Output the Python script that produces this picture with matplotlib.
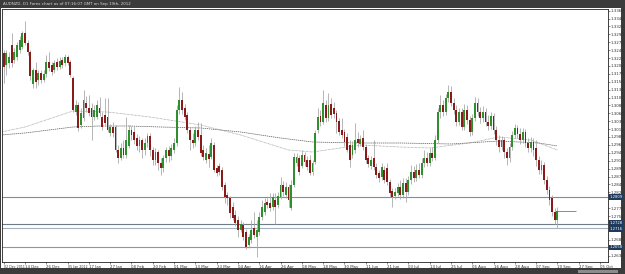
import matplotlib
matplotlib.use("Agg")
import matplotlib.pyplot as plt
from matplotlib.patches import Rectangle

# ---------------- data ----------------
title = "AUDNZD, D1 Forex chart as of 07:16:07 GMT on Sep 19th, 2012"

opens = [
    1.3241, 1.3205, 1.3211, 1.3265, 1.3220, 1.3229, 1.3250, 1.3259, 1.3301, 1.3271,
    1.3244, 1.3148, 1.3190, 1.3160, 1.3181, 1.3160, 1.3178, 1.3214, 1.3205, 1.3190,
    1.3214, 1.3199, 1.3220, 1.3211, 1.3229, 1.3214, 1.3166, 1.3064, 1.3085, 1.3025,
    1.3046, 1.3091, 1.3076, 1.3076, 1.3049, 1.3049, 1.3076, 1.3049, 1.3055, 1.3049,
    1.3001, 1.3019, 1.3019, 1.2950, 1.2926, 1.2956, 1.2935, 1.2962, 1.3010, 1.3004,
    1.2986, 1.2962, 1.2980, 1.2950, 1.2971, 1.2992, 1.2950, 1.2920, 1.2944, 1.2911,
    1.2896, 1.2926, 1.2950, 1.2932, 1.2950, 1.2971, 1.3070, 1.3100, 1.3076, 1.3055,
    1.3010, 1.2980, 1.2971, 1.3010, 1.2995, 1.2950, 1.2920, 1.2938, 1.2929, 1.2965,
    1.2896, 1.2902, 1.2890, 1.2845, 1.2815, 1.2806, 1.2779, 1.2755, 1.2740, 1.2710,
    1.2725, 1.2704, 1.2665, 1.2680, 1.2716, 1.2689, 1.2704, 1.2749, 1.2764, 1.2794,
    1.2791, 1.2779, 1.2800, 1.2785, 1.2809, 1.2845, 1.2815, 1.2839, 1.2776, 1.2845,
    1.2911, 1.2926, 1.2902, 1.2935, 1.2920, 1.2920, 1.2884, 1.2914, 1.3010, 1.3052,
    1.3034, 1.3085, 1.3046, 1.3088, 1.3076, 1.3061, 1.3037, 1.3010, 1.3004, 1.2989,
    1.2965, 1.2935, 1.2950, 1.2983, 1.2968, 1.2986, 1.2959, 1.2926, 1.2902, 1.2926,
    1.2899, 1.2881, 1.2869, 1.2890, 1.2896, 1.2854, 1.2827, 1.2812, 1.2821, 1.2839,
    1.2815, 1.2851, 1.2824, 1.2860, 1.2884, 1.2866, 1.2890, 1.2875, 1.2911, 1.2926,
    1.2911, 1.2941, 1.2926, 1.2980, 1.3064, 1.3085, 1.3064, 1.3106, 1.3124, 1.3091,
    1.3070, 1.3034, 1.3064, 1.3019, 1.3070, 1.3040, 1.3004, 1.3046, 1.3091, 1.3064,
    1.3046, 1.3064, 1.3034, 1.3022, 1.3052, 1.3010, 1.2980, 1.2959, 1.2980, 1.2944,
    1.2926, 1.2959, 1.2995, 1.3016, 1.2998, 1.2980, 1.3004, 1.2971, 1.2956, 1.2974,
    1.2956, 1.2920, 1.2890, 1.2905, 1.2860, 1.2830, 1.2806, 1.2764, 1.2740,
]
highs = [
    1.3250, 1.3250, 1.3244, 1.3301, 1.3256, 1.3274, 1.3292, 1.3307, 1.3337, 1.3280,
    1.3250, 1.3196, 1.3214, 1.3190, 1.3190, 1.3190, 1.3235, 1.3244, 1.3214, 1.3220,
    1.3226, 1.3229, 1.3229, 1.3238, 1.3235, 1.3220, 1.3172, 1.3100, 1.3094, 1.3076,
    1.3130, 1.3112, 1.3115, 1.3091, 1.3085, 1.3100, 1.3109, 1.3064, 1.3106, 1.3106,
    1.3028, 1.3034, 1.3025, 1.2965, 1.2971, 1.2980, 1.3049, 1.3025, 1.3022, 1.3022,
    1.2998, 1.2992, 1.2986, 1.2986, 1.3001, 1.3001, 1.2959, 1.2956, 1.2950, 1.2926,
    1.2935, 1.2959, 1.2962, 1.2968, 1.2986, 1.3085, 1.3139, 1.3124, 1.3088, 1.3064,
    1.3019, 1.3001, 1.3022, 1.3034, 1.3031, 1.2965, 1.2956, 1.2965, 1.2986, 1.2974,
    1.2905, 1.2911, 1.2899, 1.2854, 1.2824, 1.2812, 1.2794, 1.2770, 1.2752, 1.2740,
    1.2734, 1.2713, 1.2698, 1.2740, 1.2764, 1.2740, 1.2764, 1.2800, 1.2806, 1.2806,
    1.2821, 1.2821, 1.2821, 1.2824, 1.2869, 1.2857, 1.2854, 1.2848, 1.2860, 1.2941,
    1.2941, 1.2935, 1.2950, 1.2944, 1.2932, 1.2935, 1.2920, 1.3010, 1.3076, 1.3070,
    1.3130, 1.3100, 1.3121, 1.3106, 1.3094, 1.3070, 1.3046, 1.3046, 1.3013, 1.3001,
    1.2980, 1.2977, 1.3031, 1.3004, 1.2995, 1.3010, 1.2968, 1.2935, 1.2932, 1.2980,
    1.2911, 1.2890, 1.2911, 1.2902, 1.2911, 1.2863, 1.2836, 1.2836, 1.2851, 1.2860,
    1.2866, 1.2866, 1.2872, 1.2905, 1.2902, 1.2908, 1.2911, 1.2926, 1.2950, 1.2944,
    1.2956, 1.2959, 1.2995, 1.3076, 1.3115, 1.3100, 1.3118, 1.3145, 1.3142, 1.3106,
    1.3085, 1.3076, 1.3076, 1.3088, 1.3085, 1.3052, 1.3058, 1.3109, 1.3106, 1.3079,
    1.3082, 1.3076, 1.3055, 1.3064, 1.3061, 1.3022, 1.2995, 1.2992, 1.2989, 1.2956,
    1.2971, 1.3007, 1.3028, 1.3025, 1.3016, 1.3016, 1.3013, 1.2986, 1.2989, 1.2986,
    1.2980, 1.2932, 1.2920, 1.2914, 1.2872, 1.2842, 1.2815, 1.2776, 1.2779,
]
lows = [
    1.3151, 1.3175, 1.3196, 1.3199, 1.3211, 1.3220, 1.3241, 1.3253, 1.3265, 1.3235,
    1.3160, 1.3136, 1.3136, 1.3145, 1.3151, 1.3154, 1.3169, 1.3187, 1.3175, 1.3181,
    1.3190, 1.3193, 1.3196, 1.3202, 1.3205, 1.3169, 1.3064, 1.3055, 1.3007, 1.3016,
    1.3037, 1.3064, 1.3052, 1.2980, 1.3040, 1.3043, 1.3052, 1.3010, 1.3022, 1.3004,
    1.2992, 1.2989, 1.2944, 1.2911, 1.2920, 1.2926, 1.2926, 1.2956, 1.2980, 1.2968,
    1.2950, 1.2944, 1.2926, 1.2935, 1.2959, 1.2932, 1.2905, 1.2905, 1.2890, 1.2875,
    1.2884, 1.2914, 1.2914, 1.2920, 1.2941, 1.2962, 1.3058, 1.3058, 1.3040, 1.3001,
    1.2950, 1.2956, 1.2962, 1.2980, 1.2932, 1.2920, 1.2911, 1.2899, 1.2923, 1.2884,
    1.2872, 1.2875, 1.2830, 1.2791, 1.2785, 1.2746, 1.2740, 1.2722, 1.2689, 1.2704,
    1.2680, 1.2653, 1.2656, 1.2671, 1.2686, 1.2629, 1.2695, 1.2740, 1.2755, 1.2776,
    1.2767, 1.2770, 1.2728, 1.2776, 1.2803, 1.2812, 1.2806, 1.2779, 1.2770, 1.2839,
    1.2902, 1.2875, 1.2896, 1.2902, 1.2890, 1.2875, 1.2875, 1.2908, 1.3001, 1.3022,
    1.3028, 1.3034, 1.3037, 1.3046, 1.3046, 1.3001, 1.2995, 1.2986, 1.2962, 1.2944,
    1.2899, 1.2926, 1.2941, 1.2959, 1.2962, 1.2950, 1.2911, 1.2899, 1.2893, 1.2890,
    1.2866, 1.2854, 1.2860, 1.2851, 1.2845, 1.2809, 1.2779, 1.2803, 1.2812, 1.2803,
    1.2806, 1.2794, 1.2815, 1.2848, 1.2854, 1.2857, 1.2866, 1.2866, 1.2899, 1.2902,
    1.2902, 1.2917, 1.2920, 1.2971, 1.3046, 1.3052, 1.3055, 1.3094, 1.3082, 1.3058,
    1.3022, 1.3025, 1.3010, 1.3010, 1.3028, 1.2992, 1.2995, 1.3037, 1.3052, 1.3031,
    1.3034, 1.3022, 1.3010, 1.3013, 1.2998, 1.2965, 1.2944, 1.2950, 1.2926, 1.2905,
    1.2914, 1.2950, 1.2986, 1.2986, 1.2968, 1.2971, 1.2959, 1.2944, 1.2944, 1.2932,
    1.2902, 1.2878, 1.2878, 1.2848, 1.2818, 1.2785, 1.2752, 1.2728, 1.2716,
]
closes = [
    1.3199, 1.3241, 1.3229, 1.3211, 1.3244, 1.3265, 1.3280, 1.3301, 1.3271, 1.3244,
    1.3172, 1.3190, 1.3154, 1.3181, 1.3160, 1.3178, 1.3214, 1.3196, 1.3184, 1.3211,
    1.3199, 1.3217, 1.3205, 1.3229, 1.3211, 1.3175, 1.3070, 1.3085, 1.3016, 1.3061,
    1.3100, 1.3076, 1.3061, 1.3049, 1.3070, 1.3085, 1.3061, 1.3019, 1.3031, 1.3010,
    1.3019, 1.3001, 1.2950, 1.2926, 1.2956, 1.2935, 1.2980, 1.3010, 1.2995, 1.2980,
    1.2962, 1.2980, 1.2950, 1.2971, 1.2992, 1.2950, 1.2920, 1.2944, 1.2911, 1.2896,
    1.2926, 1.2950, 1.2932, 1.2956, 1.2971, 1.3070, 1.3100, 1.3070, 1.3049, 1.3010,
    1.2980, 1.2971, 1.3010, 1.2989, 1.2941, 1.2929, 1.2941, 1.2923, 1.2971, 1.2890,
    1.2881, 1.2884, 1.2839, 1.2809, 1.2806, 1.2761, 1.2746, 1.2731, 1.2710, 1.2728,
    1.2689, 1.2659, 1.2689, 1.2710, 1.2695, 1.2710, 1.2749, 1.2779, 1.2791, 1.2785,
    1.2776, 1.2809, 1.2779, 1.2812, 1.2845, 1.2824, 1.2839, 1.2800, 1.2845, 1.2929,
    1.2929, 1.2884, 1.2935, 1.2914, 1.2899, 1.2881, 1.2911, 1.3001, 1.3049, 1.3034,
    1.3091, 1.3046, 1.3085, 1.3055, 1.3058, 1.3034, 1.3004, 1.2995, 1.2974, 1.2950,
    1.2920, 1.2965, 1.2980, 1.2971, 1.2983, 1.2959, 1.2920, 1.2908, 1.2920, 1.2899,
    1.2875, 1.2866, 1.2899, 1.2860, 1.2854, 1.2821, 1.2809, 1.2824, 1.2839, 1.2815,
    1.2851, 1.2824, 1.2860, 1.2884, 1.2866, 1.2890, 1.2875, 1.2911, 1.2926, 1.2911,
    1.2941, 1.2926, 1.2980, 1.3064, 1.3085, 1.3064, 1.3106, 1.3124, 1.3091, 1.3070,
    1.3034, 1.3064, 1.3019, 1.3070, 1.3040, 1.3004, 1.3046, 1.3091, 1.3064, 1.3046,
    1.3064, 1.3034, 1.3022, 1.3052, 1.3010, 1.2980, 1.2959, 1.2980, 1.2944, 1.2926,
    1.2959, 1.2995, 1.3016, 1.2998, 1.2980, 1.3004, 1.2971, 1.2956, 1.2974, 1.2950,
    1.2920, 1.2890, 1.2905, 1.2860, 1.2830, 1.2800, 1.2764, 1.2740, 1.2767,
]
first_bar = -8

# moving averages (sampled at bar indices)
ma_slow_bars = [-9, 0, 9, 18, 28, 39, 51, 66, 81, 96, 108, 126, 141, 160, 178, 193, 200]
ma_slow_vals = [1.2995, 1.3001, 1.3010, 1.3019, 1.3022, 1.3022, 1.3019, 1.3016, 1.3004,
                1.2986, 1.2974, 1.2971, 1.2971, 1.2968, 1.2977, 1.2971, 1.2962]
ma_fast_bars = [-9, 0, 9, 18, 31, 47, 66, 81, 99, 108, 126, 141, 152, 167, 178, 190, 200]
ma_fast_vals = [1.3004, 1.3019, 1.3043, 1.3067, 1.3064, 1.3049, 1.3025, 1.2995, 1.2950,
                1.2944, 1.2965, 1.2959, 1.2956, 1.2971, 1.2989, 1.2980, 1.2950]

# horizontal levels
levels = [1.2809, 1.2728, 1.2716, 1.2658]
label_pos = [1.2809, 1.2731, 1.2713, 1.2658]
current_price = 1.2767

y_ticks = [1.3368, 1.3344, 1.3321, 1.3297, 1.3273, 1.3249, 1.3226, 1.3202, 1.3178, 1.3155,
           1.3131, 1.3107, 1.3084, 1.3060, 1.3036, 1.3012, 1.2989, 1.2965, 1.2941, 1.2918,
           1.2894, 1.2870, 1.2847, 1.2823, 1.2799, 1.2775, 1.2752, 1.2728, 1.2704, 1.2681,
           1.2657, 1.2633]

x_tick_labels = ["02 Dec 2011", "14 Dec", "26 Dec", "05 Jan 2012", "17 Jan", "27 Jan",
                 "08 Feb", "20 Feb", "01 Mar", "13 Mar", "23 Mar", "04 Apr", "16 Apr",
                 "26 Apr", "08 May", "18 May", "30 May", "11 Jun", "21 Jun", "03 Jul",
                 "13 Jul", "25 Jul", "06 Aug", "16 Aug", "28 Aug", "07 Sep", "19 Sep",
                 "27 Sep", "05 Oct"]

# ---------------- figure ----------------
W, H = 625, 274
fig = plt.figure(figsize=(W / 100, H / 100), dpi=100)
fig.patch.set_facecolor("#3b3b3b")

def fx(x):
    return x / W

def fy(y):
    return 1 - y / H

fig.add_artist(Rectangle((fx(1), fy(268)), 620 / W, 260 / H, transform=fig.transFigure,
                         facecolor="white", edgecolor="none", zorder=0))
fig.add_artist(Rectangle((fx(578), fy(273)), 40 / W, 3 / H, transform=fig.transFigure,
                         facecolor="#8c8c8c", edgecolor="none", zorder=0))
fig.text(fx(3), fy(3.8), title, color="#d8d8d8", fontsize=2.9, va="center", ha="left",
         family="DejaVu Sans")

ax = fig.add_axes([fx(2), fy(262), (608 - 2) / W, (262 - 9) / H])
ax.set_facecolor("white")
ax.set_xlim(-8.64, 219)
ax.set_ylim(1.2614, 1.3373)

n = len(closes)
xs = [first_bar + k for k in range(n)]

up_col = "#2f8f2f"
dn_col = "#8b1a1a"
wick_col = "#a9a9a9"

ax.vlines(xs, lows, highs, color=wick_col, lw=0.6, zorder=2)
bottoms = [min(o, c) for o, c in zip(opens, closes)]
heights = [max(abs(c - o), 0.00006) for o, c in zip(opens, closes)]
colors = [up_col if c >= o else dn_col for o, c in zip(opens, closes)]
ax.bar(xs, heights, bottom=bottoms, width=0.7, color=colors, edgecolor="none", zorder=3)

ax.plot(ma_slow_bars, ma_slow_vals, color="#5a5a5a", lw=0.5, linestyle=(0, (2, 1)), zorder=1)
ax.plot(ma_fast_bars, ma_fast_vals, color="#8a8a8a", lw=0.5, linestyle=(0, (1, 1)), zorder=1)

level_cols = ["#7f8e9b", "#6d7c89", "#a4b0ba", "#8a98a4"]
for lv, col in zip(levels, level_cols):
    ax.axhline(lv, color=col, lw=0.8, zorder=1)
ax.hlines(current_price, xs[-1], xs[-1] + 7, color="#7a7a7a", lw=0.6, zorder=1)

# axes styling
for s in ax.spines.values():
    s.set_color("#202020")
    s.set_linewidth(0.6)
ax.yaxis.tick_right()
shown_ticks = [t for t in y_ticks if min(abs(t - lp) for lp in label_pos) > 0.0012]
ax.set_yticks(shown_ticks)
ax.set_yticklabels([f"{v:.4f}" for v in shown_ticks], fontsize=2.9, color="#333333")
ax.tick_params(axis="y", length=1.2, width=0.4, pad=1, colors="#333333")

x_tick_pos = [first_bar] + [8 * k for k in range(len(x_tick_labels) - 1)]
ax.set_xticks(x_tick_pos)
ax.set_xticklabels(x_tick_labels, fontsize=2.8, color="#333333", ha="left")
for lab in ax.get_xticklabels():
    if len(lab.get_text()) > 7:
        lab.set_fontsize(2.3)
ax.tick_params(axis="x", length=1.5, width=0.4, pad=1, colors="#333333")

for lv, lp in zip(levels, label_pos):
    ax.text(1.002, lp, f"{lv:.4f}", transform=ax.get_yaxis_transform(), fontsize=2.7,
            color="white", va="center", ha="left", clip_on=False, zorder=6,
            bbox=dict(boxstyle="square,pad=0.15", facecolor="#1d3a5c", edgecolor="none"))

fig.savefig("out.png", dpi=100, facecolor=fig.get_facecolor())
